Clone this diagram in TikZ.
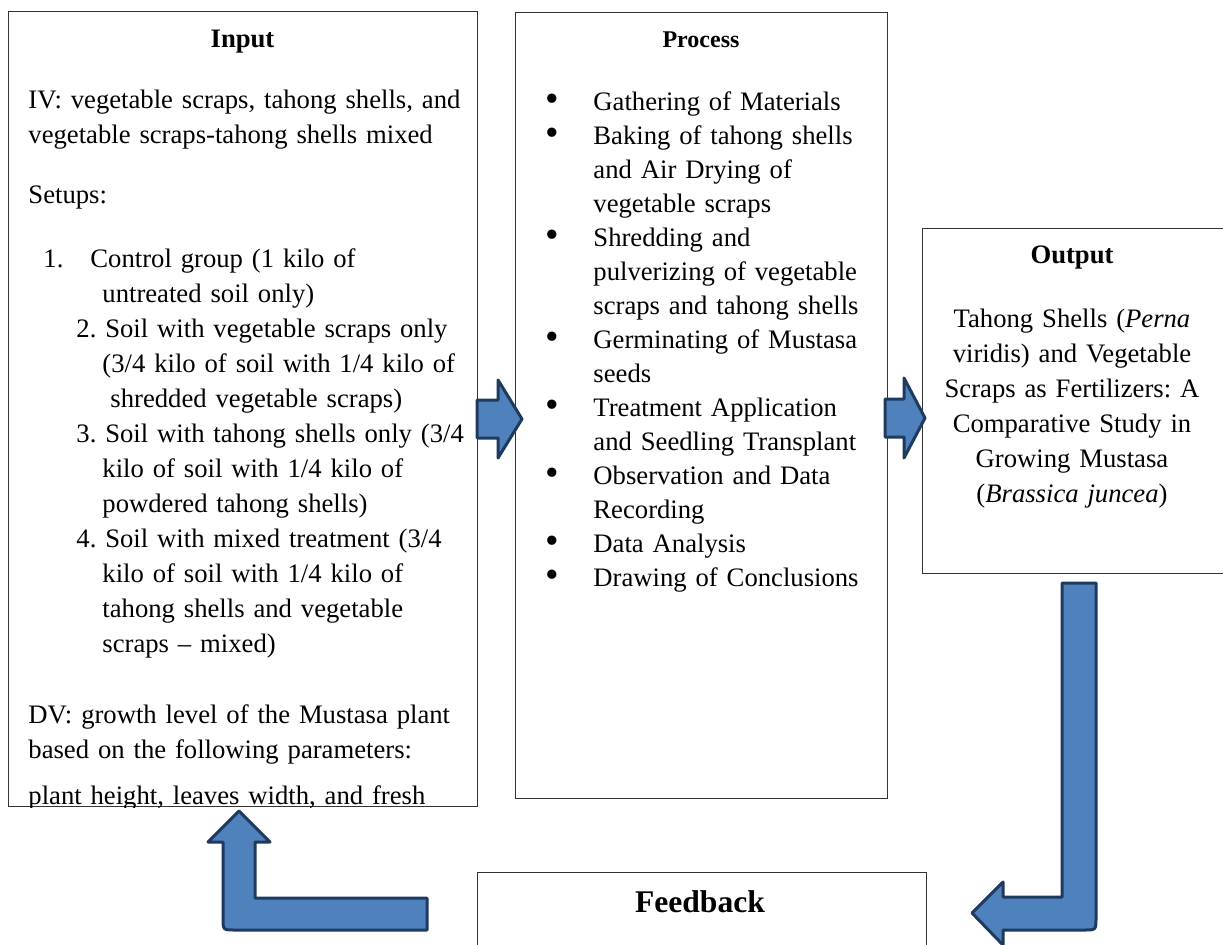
\documentclass[tikz,border=0pt]{standalone}
\usepackage{fontspec}
\setmainfont{Liberation Serif}
\usetikzlibrary{positioning}
\definecolor{arrowBlue}{HTML}{4F81BD}
\definecolor{arrowNavy}{HTML}{1F3A5F}
\frenchspacing
\newcommand{\stepBullet}{\makebox[21.6pt][l]{\raisebox{-0.6pt}{\scalebox{1.45}{\textbullet}}}}
\newcommand{\stepGap}{\hspace*{21.6pt}}

\begin{document}
\begin{tikzpicture}[
        x=0.45pt, y=-0.45pt,
        frameBox/.style={draw=black!80, line width=0.6pt, anchor=north west, inner sep=0pt},
        bodyText/.style={anchor=base west, inner sep=0pt, align=left, text width=#1, font=\fontsize{12pt}{15.75pt}\selectfont},
        headText/.style={anchor=base, inner sep=0pt, font=\fontsize{12pt}{14pt}\selectfont\bfseries},
        blockArrow/.style={fill=arrowBlue, draw=arrowNavy, line width=1.35pt, line join=round}
    ]
        \useasboundingbox (0,0) rectangle (1223,944);

        % Boxes
        \node[frameBox, minimum width=211.05pt, minimum height=357.75pt] (inputBox) at (8,11) {};
        \node[frameBox, minimum width=167.4pt, minimum height=353.7pt] (processBox) at (515,12) {};
        \node[frameBox, minimum width=136.8pt, minimum height=155.25pt] (outputBox) at (922,228) {};
        \node[frameBox, minimum width=202.05pt, minimum height=40pt] (feedbackBox) at (477,872) {};

        % Input
        \node[headText] (inputHead) at (242.5,47) {Input};
        \begin{scope}
            \clip (inputBox.north west) rectangle (inputBox.south east);
            \node[bodyText=205pt] (ivText) at (28,108) {IV: vegetable scraps, tahong shells, and\\
                vegetable scraps-tahong shells mixed};
            \node[bodyText=205pt] (setupText) at (28,203) {Setups:};
            \node[bodyText=205pt] (setupList) at (43,267) {\makebox[21.15pt][l]{1.}Control group (1 kilo of\\
                \hspace*{26.55pt}untreated soil only)\\
                \hspace*{14.85pt}2. Soil with vegetable scraps only\\
                \hspace*{26.55pt}(3/4 kilo of soil with 1/4 kilo of\\
                \hspace*{30.15pt}shredded vegetable scraps)\\
                \hspace*{14.85pt}3. Soil with tahong shells only (3/4\\
                \hspace*{26.55pt}kilo of soil with 1/4 kilo of\\
                \hspace*{26.55pt}powdered tahong shells)\\
                \hspace*{14.85pt}4. Soil with mixed treatment (3/4\\
                \hspace*{26.55pt}kilo of soil with 1/4 kilo of\\
                \hspace*{26.55pt}tahong shells and vegetable\\
                \hspace*{26.55pt}scraps -- mixed)};
            \node[bodyText=205pt] (dvText) at (28,723) {DV: growth level of the Mustasa plant\\
                based on the following parameters:\\[5pt]
                plant height, leaves width, and fresh};
        \end{scope}

        % Process
        \node[headText, font=\fontsize{10.8pt}{13pt}\selectfont\bfseries] (processHead) at (701,47) {Process};
        \node[bodyText=170pt, font=\fontsize{12pt}{15.3pt}\selectfont] (processList) at (545,110) {\stepBullet Gathering of Materials\\
            \stepBullet Baking of tahong shells\\
            \stepGap and Air Drying of\\
            \stepGap vegetable scraps\\
            \stepBullet Shredding and\\
            \stepGap pulverizing of vegetable\\
            \stepGap scraps and tahong shells\\
            \stepBullet Germinating of Mustasa\\
            \stepGap seeds\\
            \stepBullet Treatment Application\\
            \stepGap and Seedling Transplant\\
            \stepBullet Observation and Data\\
            \stepGap Recording\\
            \stepBullet Data Analysis\\
            \stepBullet Drawing of Conclusions};

        % Output
        \node[headText] (outputHead) at (1072,263) {Output};
        \node[bodyText=125pt, anchor=base, align=center] (outputText) at (1072,327) {Tahong Shells (\textit{Perna}\\
            viridis) and Vegetable\\
            Scraps as Fertilizers: A\\
            Comparative Study in\\
            Growing Mustasa\\
            (\textit{Brassica juncea})};

        % Feedback
        \node[headText, font=\fontsize{14.2pt}{17pt}\selectfont\bfseries] (feedbackHead) at (700,912) {Feedback};

        % Arrows
        \draw[blockArrow] (477,400) -- (498,400) -- (498,380) -- (522,419) -- (498,458) -- (498,438) -- (477,438) -- cycle;
        \draw[blockArrow] (885,399) -- (904,399) -- (904,378) -- (925,418) -- (904,458) -- (904,437) -- (885,437) -- cycle;
        \draw[blockArrow] (1062,583) -- (1096,583) -- (1096,918) .. controls (1096,930) .. (1084,930) -- (1003,930) -- (1003,945) -- (972,913) -- (1003,882) -- (1003,897) -- (1062,897) -- cycle;
        \draw[blockArrow] (239,811) -- (270,842) -- (255,842) -- (255,898) -- (427,898) -- (427,930) -- (235,930) .. controls (223,930) .. (223,918) -- (223,842) -- (208,842) -- cycle;
    \end{tikzpicture}
\end{document}
